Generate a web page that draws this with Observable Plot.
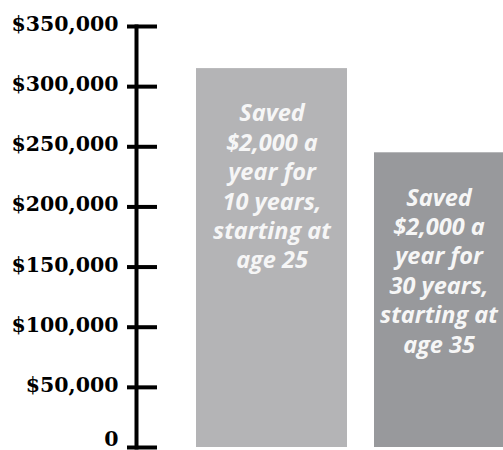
<!DOCTYPE html>
<html>
<head>
<meta charset="utf-8">
<script src="https://cdn.jsdelivr.net/npm/d3@7"></script>
<script src="https://cdn.jsdelivr.net/npm/@observablehq/plot@0.6"></script>
<style>
  html, body { margin: 0; padding: 0; background: #ffffff; }
  #chart svg { display: block; }
</style>
</head>
<body>
<div id="chart"></div>
<script>
// Data
const categories = ["10 years from 25", "30 years from 35"];
const barLabels = [
  "Saved\n$2,000 a\nyear for\n10 years,\nstarting at\nage 25",
  "Saved\n$2,000 a\nyear for\n30 years,\nstarting at\nage 35"
];
const values = [315000, 245000];
const barColors = ["#b4b4b6", "#98999c"];
const yTicks = [0, 50000, 100000, 150000, 200000, 250000, 300000, 350000];
const yTickLabels = ["0", "$50,000", "$100,000", "$150,000", "$200,000", "$250,000", "$300,000", "$350,000"];

const data = categories.map((c, i) => ({cat: c, value: values[i], label: barLabels[i], color: barColors[i]}));
const first = data.slice(0, 1);
const second = data.slice(1);

const W = 503, H = 450, ML = 136;

const textStyle = {
  x: "cat", y: "value", text: "label",
  lineAnchor: "top", dy: 32, lineHeight: 1.25,
  fontSize: 23.5, fontStyle: "italic", fontWeight: "bold",
  fontFamily: "Open Sans", fill: "#f6f6f6"
};

const axisStyle = {
  anchor: "left",
  tickSize: 0,
  tickPadding: 18,
  fontSize: 20.5,
  fontWeight: "bold",
  fontFamily: "DejaVu Serif",
  fill: "#000",
  label: null,
  tickFormat: (d) => yTickLabels[yTicks.indexOf(d)]
};

const chart = Plot.plot({
  width: W,
  height: H,
  marginLeft: ML,
  marginRight: 0,
  marginTop: 26,
  marginBottom: 3,
  style: {background: "#ffffff", overflow: "hidden"},
  x: {domain: categories, range: [196, 525], paddingInner: 0.152, paddingOuter: 0, axis: null},
  y: {domain: [0, 350000], axis: null},
  color: {type: "identity"},
  marks: [
    Plot.barY(first, {x: "cat", y: "value", fill: "color"}),
    Plot.barY(second, {x: "cat", y: "value", fill: "color", insetRight: 22}),
    Plot.text(first, textStyle),
    Plot.text(second, {...textStyle, dx: -11}),
    Plot.frame({anchor: "left", stroke: "#000", strokeWidth: 4}),
    Plot.ruleY(yTicks, {y: d => d, stroke: "#000", strokeWidth: 4, insetLeft: -9, insetRight: W - ML - 21}),
    Plot.axisY(yTicks.filter(d => d > 0), {...axisStyle, dy: -2}),
    Plot.axisY(yTicks.filter(d => d === 0), {...axisStyle, dy: -8})
  ]
});

document.getElementById("chart").appendChild(chart);
</script>
</body>
</html>
